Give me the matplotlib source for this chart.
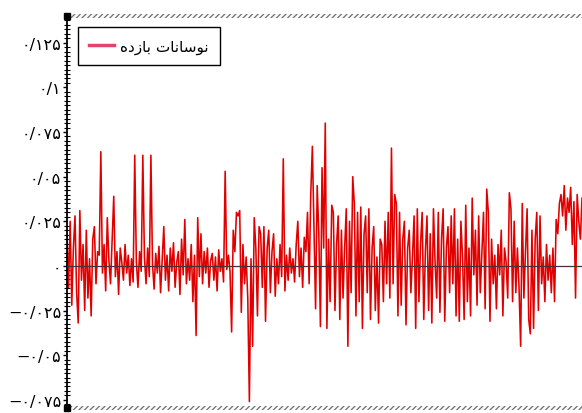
import numpy as np
import matplotlib.pyplot as plt
from matplotlib.patches import Rectangle
from matplotlib.lines import Line2D
from matplotlib.ticker import MultipleLocator

# return fluctuations (one value per step)
returns = [
    0.018, -0.012, 0.025, -0.022, 0.010, 0.028, -0.015, -0.032, 0.031, -0.008,
    0.012, -0.025, 0.020, -0.018, 0.004, -0.028, 0.015, 0.022, -0.010, 0.008,
    0.006, 0.064, -0.004, 0.012, -0.014, 0.027, 0.003, -0.010, 0.015, 0.039,
    -0.006, 0.008, -0.016, 0.010, 0.002, -0.008, 0.012, -0.004, 0.006, -0.011,
    0.004, -0.009, 0.062, 0.002, -0.012, 0.008, -0.003, 0.062, 0.005, -0.010,
    0.010, -0.006, 0.062, 0.001, -0.013, 0.007, -0.004, 0.011, -0.015, 0.003,
    0.022, -0.008, 0.006, -0.014, 0.010, -0.003, 0.013, -0.012, 0.002, 0.008,
    -0.016, 0.015, -0.005, 0.026, -0.010, 0.004, -0.008, 0.012, -0.020, 0.006,
    -0.039, 0.027, -0.006, 0.018, -0.010, 0.008, -0.004, 0.010, -0.012, 0.003,
    0.007, -0.008, 0.005, -0.014, 0.009, -0.003, 0.004, -0.009, 0.053, -0.002,
    0.006, -0.003, -0.037, 0.020, 0.008, 0.030, 0.028, 0.031, -0.026, 0.012,
    -0.010, 0.005, -0.018, -0.076, 0.004, -0.045, 0.027, 0.010, -0.028, 0.022,
    0.018, -0.012, 0.022, -0.031, 0.010, 0.020, -0.015, 0.008, 0.018, -0.017,
    0.004, -0.010, 0.012, -0.006, 0.060, -0.014, 0.006, -0.008, 0.010, -0.004,
    0.004, -0.009, 0.012, 0.025, -0.006, 0.010, -0.012, 0.016, 0.008, 0.030,
    -0.010, 0.040, 0.067, 0.022, -0.024, 0.045, 0.018, -0.034, 0.055, 0.010,
    0.080, -0.035, 0.015, -0.020, 0.034, 0.030, -0.025, 0.012, 0.028, -0.030,
    0.020, -0.018, 0.010, 0.032, -0.045, 0.025, -0.015, 0.050, 0.035, -0.028,
    0.030, -0.020, 0.033, -0.035, 0.018, 0.028, -0.015, 0.032, -0.030, 0.010,
    0.022, -0.025, 0.005, -0.032, 0.015, 0.012, -0.020, 0.025, -0.010, 0.030,
    -0.018, 0.066, -0.010, 0.040, 0.035, -0.028, 0.030, -0.022, 0.015, 0.025,
    -0.033, 0.010, 0.020, -0.015, 0.005, 0.028, -0.035, 0.032, -0.020, 0.012,
    0.030, -0.030, 0.008, 0.028, -0.025, 0.018, -0.032, 0.032, 0.002, -0.018,
    0.030, -0.026, 0.015, 0.032, -0.031, 0.010, 0.022, -0.015, 0.028, -0.010,
    0.032, -0.028, 0.015, -0.031, 0.025, 0.005, -0.030, 0.034, -0.020, 0.010,
    -0.028, 0.038, -0.005, 0.020, -0.022, 0.028, -0.015, 0.008, 0.030, -0.024,
    0.043, 0.030, -0.031, 0.015, -0.010, 0.006, -0.024, 0.012, -0.005, 0.020,
    -0.028, 0.010, 0.002, -0.018, 0.041, 0.032, -0.020, 0.025, -0.015, 0.010,
    -0.012, -0.045, 0.035, -0.018, 0.008, 0.032, -0.030, -0.038, 0.020, -0.035,
    0.015, 0.030, -0.025, 0.028, -0.010, 0.005, -0.020, 0.012, -0.008, 0.006,
    -0.015, 0.010, -0.020, 0.026, 0.018, 0.035, 0.040, 0.028, 0.045, 0.020,
    0.038, 0.030, 0.044, 0.012, 0.036, -0.018, 0.040, 0.025, 0.015, 0.038,
]

yticks = [-0.075, -0.05, -0.025, 0, 0.025, 0.05, 0.075, 0.1, 0.125]
ytick_labels = ["−۰/۰۷۵", "−۰/۰۵", "−۰/۰۲۵", "۰", "۰/۰۲۵", "۰/۰۵", "۰/۰۷۵", "۰/۱", "۰/۱۲۵"]
# "نوسانات بازده" in shaped, visual (left-to-right) order
legend_label = "ﻩﺩﺯﺎﺑ ﺕﺎﻧﺎﺳﻮﻧ"

plt.rcParams['font.family'] = ['DejaVu Sans']
plt.rcParams['hatch.linewidth'] = 1.0

fig = plt.figure(figsize=(5.82, 4.14), dpi=100)
ax = fig.add_axes([0.115, 0.012, 0.885, 0.947])

x = np.arange(len(returns))
ax.plot(x, returns, color='#e10000', lw=1.15)
ax.axhline(0, color='#4a3030', lw=0.9, zorder=3)

ax.set_xlim(0, len(returns) - 1)
ax.set_ylim(-0.0796, 0.140)
ax.set_xticks([])
ax.set_yticks(yticks, ytick_labels, fontsize=11.5)
ax.yaxis.set_minor_locator(MultipleLocator(0.0025))
ax.tick_params(axis='y', which='major', direction='out', length=3, width=1, pad=1)
ax.tick_params(axis='y', which='minor', direction='inout', length=4, width=0.8)

for s in ['top', 'right', 'bottom']:
    ax.spines[s].set_visible(False)
ax.spines['left'].set_linewidth(1.3)

# hatched top and bottom borders
for y0 in (0.994, -0.006):
    ax.add_patch(Rectangle((0.005, y0), 1.0, 0.012, transform=ax.transAxes,
                           hatch='//////', fill=False, edgecolor='#777777',
                           linewidth=0, clip_on=False))
ax.plot([0, 0], [0, 1], 's', ms=5, color='black', transform=ax.transAxes, clip_on=False)

handle = Line2D([], [], color='#e0466c', lw=2.5)
leg = ax.legend([handle], [legend_label], loc='upper left', bbox_to_anchor=(0.021, 0.972),
                borderaxespad=0, fontsize=11, fancybox=False, edgecolor='black',
                framealpha=1, handlelength=1.6, handletextpad=0.4, borderpad=0.75)
leg.get_frame().set_linewidth(1)

fig.savefig('out.png', dpi=100)
